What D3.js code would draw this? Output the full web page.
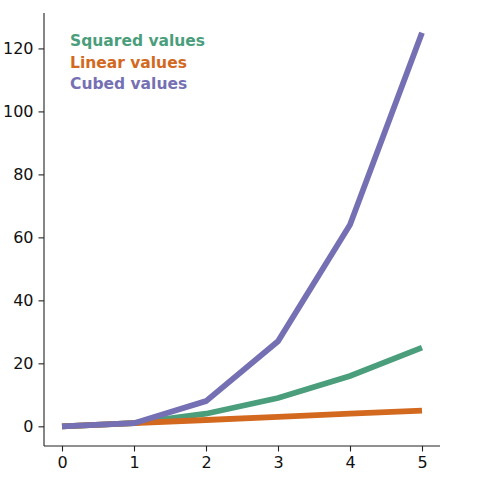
<!DOCTYPE html>
<html>
<head>
<meta charset="utf-8">
<script src="https://cdn.jsdelivr.net/npm/d3@7"></script>
<style>
  body { margin: 0; background: #fff; }
  text { font-family: "DejaVu Sans", sans-serif; }
</style>
</head>
<body>
<div id="chart"></div>
<script>
// data
var xs = [0, 1, 2, 3, 4, 5];
var squared = [0, 1, 4, 9, 16, 25];
var linear = [0, 1, 2, 3, 4, 5];
var cubed = [0, 1, 8, 27, 64, 125];
var xTicks = [0, 1, 2, 3, 4, 5];
var yTicks = [0, 20, 40, 60, 80, 100, 120];
var seriesNames = ["Squared values", "Linear values", "Cubed values"];
var seriesColors = ["#4a9e7b", "#d2691e", "#7570b3"];

// set the dimensions and margins of the graph
var margin = {top: 13, right: 40, bottom: 34, left: 44},
    width = 480 - margin.left - margin.right,
    height = 480 - margin.top - margin.bottom;

var svg = d3.select("#chart")
  .append("svg")
    .attr("width", 480)
    .attr("height", 480)
  .append("g")
    .attr("transform", "translate(" + margin.left + "," + margin.top + ")");

// scales with matplotlib-like 5% padding
var x = d3.scaleLinear().domain([-0.25, 5.25]).range([0, width]);
var y = d3.scaleLinear().domain([-6.25, 131.25]).range([height, 0]);

// axes
var xAxis = svg.append("g")
  .attr("transform", "translate(0," + height + ")")
  .call(d3.axisBottom(x).tickValues(xTicks).tickFormat(d3.format("d")).tickSize(5.5).tickPadding(5));
var yAxis = svg.append("g")
  .call(d3.axisLeft(y).tickValues(yTicks).tickFormat(d3.format("d")).tickSize(5.5).tickPadding(5));

[xAxis, yAxis].forEach(function(a) {
  a.attr("font-size", null).attr("font-family", null);
  a.select(".domain").attr("stroke", "#222").attr("stroke-width", 1.1);
  a.selectAll(".tick line").attr("stroke", "#222").attr("stroke-width", 1.1);
  a.selectAll(".tick text")
    .attr("fill", "#111")
    .style("font-size", "16px")
    .style("font-family", "'DejaVu Sans', sans-serif");
});
// keep only left/bottom spines without end caps
xAxis.select(".domain").attr("d", "M0,0H" + width);
yAxis.select(".domain").attr("d", "M0,0V" + height);

// lines
var line = d3.line()
  .x(function(d) { return x(d[0]); })
  .y(function(d) { return y(d[1]); });

var allSeries = [squared, linear, cubed];
allSeries.forEach(function(vals, i) {
  svg.append("path")
    .datum(xs.map(function(v, j) { return [v, vals[j]]; }))
    .attr("fill", "none")
    .attr("stroke", seriesColors[i])
    .attr("stroke-width", 5.8)
    .attr("stroke-linejoin", "miter")
    .attr("d", line);
});

// legend text
seriesNames.forEach(function(name, i) {
  svg.append("text")
    .attr("x", 26)
    .attr("y", 33 + i * 21.5)
    .attr("fill", seriesColors[i])
    .style("font-size", "15.5px")
    .style("font-weight", "bold")
    .text(name);
});
</script>
</body>
</html>
